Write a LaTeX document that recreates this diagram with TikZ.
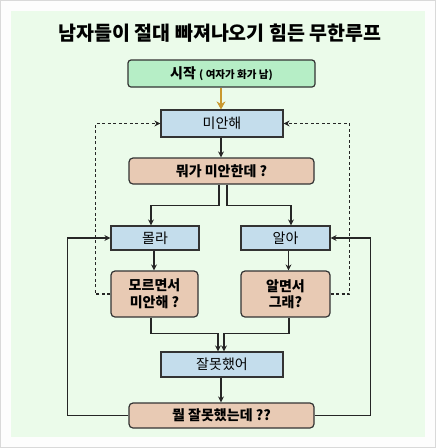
\documentclass[tikz,border=0pt]{standalone}
\usepackage{fontspec}
\setmainfont{Noto Sans CJK KR}
\usetikzlibrary{arrows.meta}
\definecolor{bgframe}{HTML}{FDFDFD}
\definecolor{bggreen}{HTML}{EBFBEA}
\definecolor{startfill}{HTML}{B6EEC6}
\definecolor{bluefill}{HTML}{C4DDEC}
\definecolor{tanfill}{HTML}{E8CAB4}
\definecolor{edge}{HTML}{333333}
\definecolor{orangearrow}{HTML}{C9982E}
\tikzset{
  boxbase/.style={draw=edge, line width=1.2pt, inner sep=0pt, align=center, text=black},
  startbox/.style={boxbase, fill=startfill, rounded corners=3pt},
  bluebox/.style={boxbase, fill=bluefill, font=\fontsize{14}{16}\selectfont},
  tanbox/.style={boxbase, fill=tanfill, rounded corners=4pt, font=\bfseries\fontsize{14}{16.5}\selectfont},
  conn/.style={draw=black!85, line width=1.1pt, -{Stealth[length=6pt,width=6pt]}},
  dconn/.style={conn, dashed, dash pattern=on 3pt off 2.5pt},
  orangeconn/.style={draw=orangearrow, line width=2.6pt, -{Stealth[length=8pt,width=9pt]}}
}
\begin{document}
\begin{tikzpicture}[x=1pt,y=-1pt]
\fill[bgframe] (0,0) rectangle (436,448);
\draw[black!15, line width=1pt] (0.5,0.5) rectangle (435.5,447.5);
\fill[bggreen] (11,11) rectangle (425,437);
\useasboundingbox (0,0) rectangle (436,448);

\node[font=\bfseries\fontsize{19.5}{22}\selectfont] (title) at (220,33) {남자들이 절대 빠져나오기 힘든 무한루프};

\node[startbox, minimum width=187pt, minimum height=27pt] (start) at (221.5,73.5)
  {\bfseries\fontsize{14}{16}\selectfont 시작 {\fontsize{10.5}{12}\selectfont ( 여자가 화가 남)}};
\node[bluebox, minimum width=122pt, minimum height=27pt] (mian) at (222,123.5) {미안해};
\node[tanbox, minimum width=185pt, minimum height=26pt] (mwo) at (221.5,171) {뭐가 미안한데 ?};
\node[bluebox, minimum width=88pt, minimum height=24pt] (molla) at (155,238) {몰라};
\node[bluebox, minimum width=89pt, minimum height=24pt] (ala) at (285.5,238) {알아};
\node[tanbox, minimum width=87pt, minimum height=46pt] (moreu) at (154.5,294) {모르면서\\미안해 ?};
\node[tanbox, minimum width=89pt, minimum height=46pt] (almyeon) at (285.5,294) {알면서\\그래?};
\node[bluebox, minimum width=122pt, minimum height=25pt] (jal) at (222,364.5) {잘못했어};
\node[tanbox, minimum width=185pt, minimum height=25pt] (mwol) at (221.5,415.5) {뭘 잘못했는데 ??};

\draw[orangeconn] ([xshift=-0.5pt]start.south) -- ([xshift=-0.5pt]start.south |- mian.north);
\draw[conn] ([xshift=-1pt]mian.south) -- ([xshift=-1pt]mian.south |- mwo.north);

\draw[conn] ([xshift=-2.5pt]mwo.south) -- ++(0,21) -| ([xshift=-4pt]molla.north);
\draw[conn] ([xshift=5.5pt]mwo.south) -- ++(0,21) -| ([xshift=5.5pt]ala.north);

\draw[conn] ([xshift=-1pt]molla.south) -- ([xshift=-1pt]molla.south |- moreu.north);
\draw[conn] ([xshift=3pt]ala.south) -- ([xshift=3pt]ala.south |- almyeon.north);

\draw[conn] ([xshift=-3.5pt]moreu.south) -- ++(0,16) -| ([xshift=-4pt]jal.north);
\draw[conn] ([xshift=3.5pt]almyeon.south) -- ++(0,16) -| ([xshift=2pt]jal.north);

\draw[conn] ([xshift=-1pt]jal.south) -- ([xshift=-1pt]jal.south |- mwol.north);

\draw[conn] (mwol.west) -- ++(-61,0) |- (molla.west);
\draw[conn] (mwol.east) -- ++(56,0) |- (ala.east);

\draw[dconn] (moreu.west) -- ++(-15,0) |- (mian.west);
\draw[dconn] (almyeon.east) -- ++(19,0) |- (mian.east);
\end{tikzpicture}
\end{document}
